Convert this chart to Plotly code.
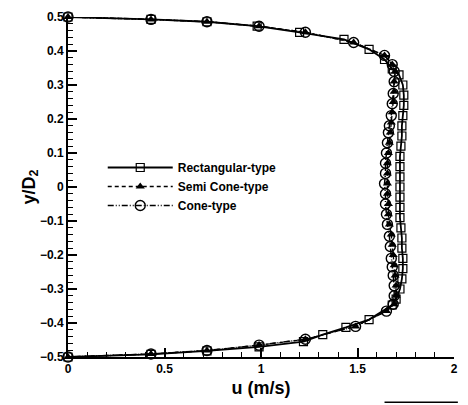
import plotly.graph_objects as go

# ---- data ----
y_rect = [0.5, 0.493, 0.486, 0.473, 0.455, 0.434, 0.405, 0.375, 0.347,
          0.33, 0.30, 0.27, 0.24, 0.21, 0.18, 0.15, 0.12, 0.09, 0.06, 0.03, 0.0,
          -0.03, -0.06, -0.09, -0.12, -0.15, -0.18, -0.21, -0.24, -0.27, -0.30, -0.33,
          -0.347, -0.39, -0.413, -0.434, -0.455, -0.47, -0.482, -0.492, -0.5]
u_rect = [0.0, 0.43, 0.72, 0.98, 1.20, 1.43, 1.56, 1.64, 1.68,
          1.715, 1.735, 1.74, 1.74, 1.735, 1.73, 1.73, 1.725, 1.72, 1.72, 1.72, 1.72,
          1.72, 1.72, 1.72, 1.725, 1.73, 1.73, 1.735, 1.735, 1.73, 1.72, 1.70,
          1.68, 1.56, 1.44, 1.32, 1.22, 0.99, 0.72, 0.43, 0.0]

y_semi = [0.5, 0.493, 0.486, 0.473, 0.455, 0.425, 0.387, 0.36,
          0.34, 0.31, 0.28, 0.25, 0.22, 0.19, 0.16, 0.13, 0.10, 0.07, 0.04, 0.01,
          -0.02, -0.05, -0.08, -0.11, -0.14, -0.17, -0.20, -0.23, -0.26, -0.29, -0.32,
          -0.345, -0.365, -0.41, -0.448, -0.465, -0.481, -0.491, -0.5]
u_semi = [0.0, 0.43, 0.72, 0.99, 1.23, 1.48, 1.64, 1.68,
          1.695, 1.69, 1.69, 1.685, 1.68, 1.675, 1.67, 1.665, 1.66, 1.655, 1.655, 1.655,
          1.655, 1.66, 1.66, 1.665, 1.675, 1.68, 1.685, 1.69, 1.695, 1.70, 1.70,
          1.69, 1.65, 1.49, 1.23, 0.99, 0.72, 0.43, 0.0]

y_cone = [0.5, 0.493, 0.486, 0.473, 0.455, 0.425, 0.387, 0.36,
          0.34, 0.31, 0.275, 0.245, 0.21, 0.18, 0.16, 0.13, 0.10, 0.07, 0.04, 0.01,
          -0.02, -0.05, -0.08, -0.11, -0.145, -0.175, -0.21, -0.235, -0.26, -0.29, -0.32,
          -0.345, -0.365, -0.41, -0.448, -0.465, -0.481, -0.491, -0.5]
u_cone = [0.0, 0.43, 0.72, 0.99, 1.23, 1.48, 1.64, 1.68,
          1.69, 1.69, 1.685, 1.68, 1.675, 1.665, 1.66, 1.655, 1.65, 1.645, 1.645, 1.64,
          1.645, 1.645, 1.65, 1.655, 1.665, 1.67, 1.675, 1.68, 1.685, 1.69, 1.69,
          1.685, 1.65, 1.49, 1.23, 0.99, 0.72, 0.43, 0.0]

names = ["Rectangular-type", "Semi Cone-type", "Cone-type"]

fig = go.Figure()
fig.add_trace(go.Scatter(
    x=u_rect, y=y_rect, name=names[0], mode="lines+markers", cliponaxis=False,
    line=dict(color="black", width=1.8, dash="solid"),
    marker=dict(symbol="square-open", size=8, color="black", line=dict(width=1.2))))
fig.add_trace(go.Scatter(
    x=u_semi, y=y_semi, name=names[1], mode="lines+markers", cliponaxis=False,
    line=dict(color="black", width=1.3, dash="4px,3px"),
    marker=dict(symbol="triangle-up", size=8, color="black")))
fig.add_trace(go.Scatter(
    x=u_cone, y=y_cone, name=names[2], mode="lines+markers", cliponaxis=False,
    line=dict(color="black", width=1.5, dash="6px,2px,1px,2px,1px,2px"),
    marker=dict(symbol="circle-open", size=10, color="black", line=dict(width=1.4))))

tickfont = dict(family="Arial", size=12, color="black", weight="bold")
fig.update_layout(
    width=468, height=405,
    margin=dict(l=68, r=10, t=12, b=47),
    paper_bgcolor="white", plot_bgcolor="white",
    showlegend=True,
    legend=dict(x=0.09, y=0.6, xanchor="left", yanchor="top",
                bgcolor="rgba(0,0,0,0)", itemwidth=65,
                font=dict(family="Arial", size=12, color="black", weight="bold"),
                tracegroupgap=0),
    xaxis=dict(range=[0, 2], dtick=0.5, tick0=0, showgrid=False, zeroline=False,
               showline=True, linecolor="black", linewidth=2,
               ticks="inside", ticklen=9, tickwidth=1.5, tickcolor="black",
               minor=dict(dtick=0.1, ticks="inside", ticklen=5, tickcolor="black", tickwidth=1),
               tickfont=tickfont,
               title=dict(text="u (m/s)", standoff=6,
                          font=dict(family="Arial", size=18, color="black", weight="bold"))),
    yaxis=dict(range=[-0.5, 0.5], dtick=0.1, tick0=0, showgrid=False, zeroline=False,
               showline=True, linecolor="black", linewidth=2,
               ticks="inside", ticklen=9, tickwidth=1.5, tickcolor="black",
               minor=dict(dtick=0.02, ticks="inside", ticklen=5, tickcolor="black", tickwidth=1),
               tickfont=tickfont, tickformat="~g",
               title=dict(text="y/D<sub>2</sub>", standoff=0,
                          font=dict(family="Arial", size=18, color="black", weight="bold"))),
)

# stray scan line at the bottom right of the original
fig.add_shape(type="line", xref="paper", yref="paper",
              x0=0.82, x1=1.01, y0=-0.133, y1=-0.133,
              line=dict(color="black", width=1.5))

fig.write_html("out.html", config={"displayModeBar": False},
               post_script="document.body.style.margin='0px';document.body.style.padding='0px';")
